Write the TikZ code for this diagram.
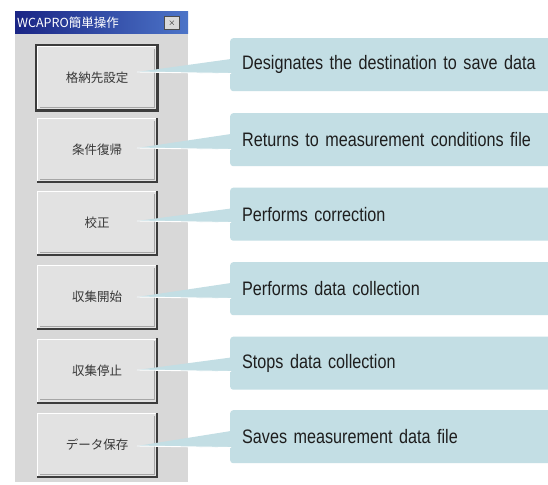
\documentclass[tikz,border=0pt]{standalone}
\usepackage{fontspec}
\setmainfont{Liberation Sans}[FakeStretch=0.83]
\newfontfamily\jpfont{Noto Sans CJK JP}
\usetikzlibrary{calc}
\newcommand{\callfont}{\fontsize{19.5}{21}\selectfont}
\definecolor{cbox}{HTML}{C3DEE4}
\definecolor{panelgray}{HTML}{D8D8D8}
\definecolor{btnfill}{HTML}{E2E2E2}
\definecolor{btndark}{HTML}{3C3C3C}
\definecolor{txt}{HTML}{1E1E1E}
\definecolor{titleA}{HTML}{1A2585}
\definecolor{titleB}{HTML}{4C74C8}
\begin{document}
\begin{tikzpicture}[x=1pt,y=-1pt,
  callout/.style={fill=cbox, rounded corners=3pt, anchor=north west,
    minimum width=318pt, minimum height=53pt, text width=310pt,
    inner xsep=12pt, inner ysep=0pt, align=left, text=txt,
    font=\callfont},
  btnbox/.style={fill=btnfill, minimum width=120pt, minimum height=64pt,
    inner sep=0pt, text=black!78, font=\jpfont\fontsize{12.5}{14}\selectfont},
  wedge/.style={fill=cbox},
  wedgeedge/.style={draw=white, line width=0.9pt}
]
\useasboundingbox (0,0) rectangle (548,484);
\fill[white] (0,0) rectangle (548,484);
% window panel
\fill[panelgray] (15,12) rectangle (188,482);
\shade[left color=titleA, right color=titleB] (15,12) rectangle (188,34);
\node[anchor=west, inner sep=0pt, text=white, font=\jpfont\fontsize{12.5}{14}\selectfont] (title) at (17,23) {WCAPRO簡単操作};
\node[draw=black!70, fill=black!15, minimum width=15pt, minimum height=13pt, inner sep=0pt, font=\bfseries\small] (close) at (172,23) {$\times$};

% buttons
\node[btnbox] (b1) at (97,78) {格納先設定};
\node[btnbox] (b2) at (97,150) {条件復帰};
\node[btnbox] (b3) at (97,223) {校正};
\node[btnbox] (b4) at (97,297) {収集開始};
\node[btnbox] (b5) at (97,370.5) {収集停止};
\node[btnbox] (b6) at (97,445) {データ保存};
\foreach \b in {b1,b2,b3,b4,b5,b6}{
  \draw[white, line width=1.2pt] ($(\b.south west)+(1,0)$) -- ($(\b.north west)+(1,1)$) -- ($(\b.north east)+(0,1)$);
  \draw[btndark, line width=1.6pt] (\b.north east) -- (\b.south east) -- (\b.south west);
  \draw[black!35, line width=0.6pt] ($(\b.north east)+(-3,3)$) -- ($(\b.south east)+(-3,-3)$) -- ($(\b.south west)+(3,-3)$);
}
\draw[btndark, line width=2pt] ($(b1.north west)+(-1,-1)$) rectangle ($(b1.south east)+(1,1)$);

% callouts
\node[callout] (c1) at (230,38) {Designates the destination to save data};
\node[callout] (c2) at (230,113) {Returns to measurement conditions file};
\node[callout] (c3) at (230,187.5) {Performs correction};
\node[callout] (c4) at (230,262) {Performs data collection};
\node[callout] (c5) at (230,336.5) {Stops data collection};
\node[callout] (c6) at (230,410) {Saves measurement data file};

\coordinate (t1) at (137,72);
\coordinate (t2) at (137,148);
\coordinate (t3) at (137,221);
\coordinate (t4) at (137,297);
\coordinate (t5) at (137,370);
\coordinate (t6) at (137,446);
\foreach \i in {1,...,6}{
  \fill[wedge] (t\i) -- ($(c\i.north west)+(1,21)$) -- ($(c\i.west |- t\i)+(1,1.5)$) -- cycle;
  \draw[wedgeedge] (t\i) -- ($(c\i.west |- t\i)+(1,1.5)$);
}
\end{tikzpicture}
\end{document}
